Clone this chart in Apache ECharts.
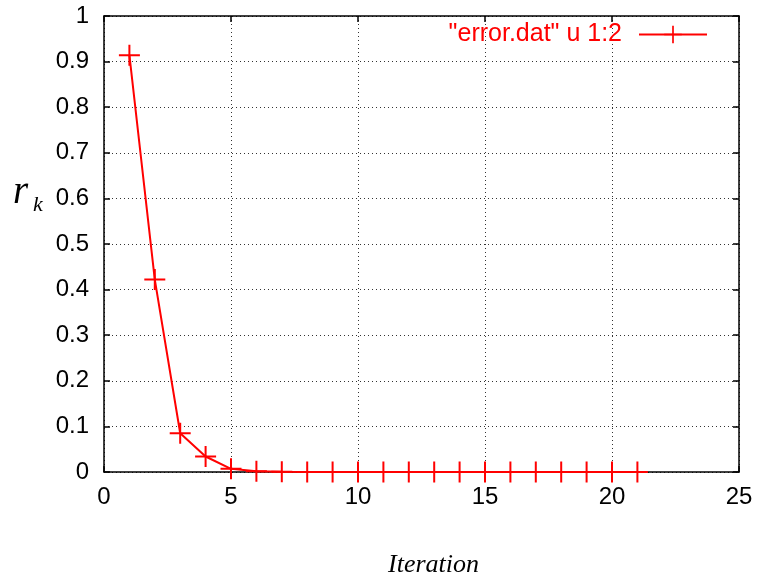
<!DOCTYPE html>
<html>
<head>
<meta charset="utf-8">
<script src="https://cdn.jsdelivr.net/npm/echarts@6/dist/echarts.min.js"></script>
<style>
html,body{margin:0;padding:0;background:#fff;}
#chart{width:758px;height:581px;}
</style>
</head>
<body>
<div id="chart"></div>
<script>
const iterations = [1,2,3,4,5,6,7,8,9,10,11,12,13,14,15,16,17,18,19,20,21];
const errorValues = [0.914,0.422,0.085,0.034,0.007,0.0015,0.0003,0.0001,0,0,0,0,0,0,0,0,0,0,0,0,0];
const seriesName = '"error.dat" u 1:2';
const xTicks = {min:0, max:25, interval:5};
const yTicks = {min:0, max:1, interval:0.1};

const chart = echarts.init(document.getElementById('chart'));
const plus = 'path://M9.5,0H11.5V9.5H21V11.5H11.5V21H9.5V11.5H0V9.5H9.5Z';
const fontFam = '"Liberation Sans", Arial, sans-serif';
const serif = '"Liberation Serif","DejaVu Serif",serif';
const baseX = {
  type:'value', min:xTicks.min, max:xTicks.max, interval:xTicks.interval,
  axisLine:{show:true, onZero:false, lineStyle:{color:'#000', width:1.5}},
  axisTick:{show:true, inside:true, length:6, lineStyle:{color:'#000', width:1.5}},
  splitLine:{show:false}
};
const baseY = {
  type:'value', min:yTicks.min, max:yTicks.max, interval:yTicks.interval,
  axisLine:{show:true, onZero:false, lineStyle:{color:'#000', width:1.5}},
  axisTick:{show:true, inside:true, length:6, lineStyle:{color:'#000', width:1.5}},
  splitLine:{show:false}
};
chart.setOption({
  animation:false,
  backgroundColor:'#fff',
  grid:{left:104, right:19, top:16, bottom:109},
  legend:{
    show:true, right:50, top:22, align:'right', padding:0,
    itemWidth:68, itemHeight:22,
    textStyle:{color:'#ff0000', fontSize:25, fontFamily:fontFam, padding:[0,12,0,0]},
    data:[seriesName]
  },
  xAxis:[
    Object.assign({}, baseX, {
      position:'bottom',
      axisLabel:{color:'#000', fontSize:24, fontFamily:fontFam, margin:13},
      splitLine:{show:true, lineStyle:{color:'#333', width:1, type:[1,3]}}
    }),
    Object.assign({}, baseX, {position:'top', axisLabel:{show:false}})
  ],
  yAxis:[
    Object.assign({}, baseY, {
      position:'left',
      axisLabel:{color:'#000', fontSize:24, fontFamily:fontFam, margin:15},
      splitLine:{show:true, lineStyle:{color:'#333', width:1, type:[1,3]}}
    }),
    Object.assign({}, baseY, {position:'right', axisLabel:{show:false}})
  ],
  graphic:[
    {type:'text', left:13, top:173, style:{
      text:'r', fontFamily:serif, fontStyle:'italic', fontSize:39, fill:'#000'
    }},
    {type:'text', left:33, top:194, style:{
      text:'k', fontFamily:serif, fontStyle:'italic', fontSize:22, fill:'#000'
    }},
    {type:'text', left:388, top:552, style:{
      text:'Iteration', fontFamily:serif, fontStyle:'italic', fontSize:26, fill:'#000'
    }}
  ],
  series:[{
    name:seriesName,
    type:'line',
    data:iterations.map((x,i)=>[x, errorValues[i]]),
    symbol:plus, symbolSize:21,
    showAllSymbol:true,
    lineStyle:{color:'#ff0000', width:2},
    itemStyle:{color:'#ff0000'}
  }]
});
</script>
</body>
</html>
